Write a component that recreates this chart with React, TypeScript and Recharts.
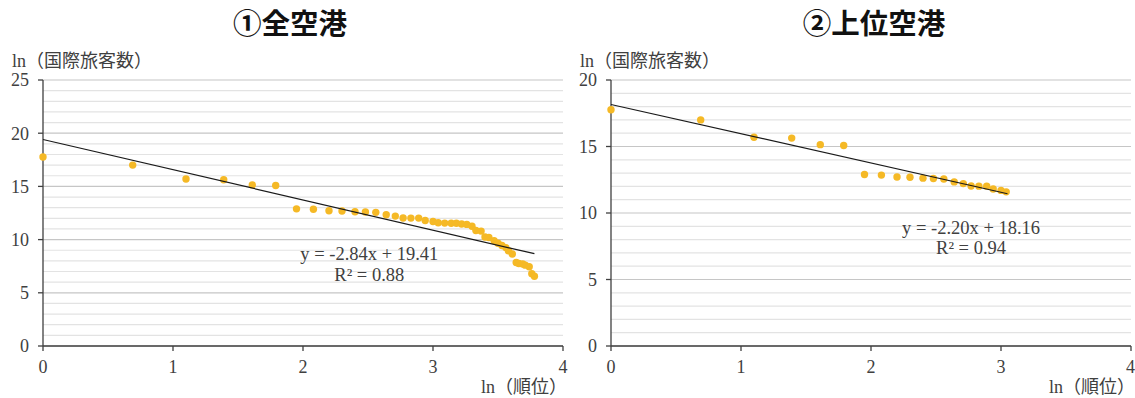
import React from 'react'
import {
  ScatterChart,
  Scatter,
  XAxis,
  YAxis,
  CartesianGrid,
  ReferenceLine,
  ReferenceDot,
} from 'recharts'

// ln(rank) of each airport
const lnRank = [
  0, 0.69, 1.1, 1.39, 1.61, 1.79, 1.95, 2.08, 2.2, 2.3, 2.4, 2.48, 2.56, 2.64,
  2.71, 2.77, 2.83, 2.89, 2.94, 3.0, 3.04, 3.09, 3.14, 3.18, 3.22, 3.26, 3.3,
  3.33, 3.37, 3.4, 3.43, 3.47, 3.5, 3.53, 3.56, 3.58, 3.61, 3.64, 3.66, 3.69,
  3.71, 3.74, 3.76, 3.78,
]

// ln(international passengers)
const lnPassengers = [
  17.76, 17.0, 15.7, 15.63, 15.14, 15.08, 12.89, 12.85, 12.71, 12.69, 12.62,
  12.59, 12.56, 12.34, 12.21, 12.03, 12.02, 12.02, 11.8, 11.7, 11.59, 11.55,
  11.53, 11.53, 11.47, 11.43, 11.25, 10.85, 10.8, 10.25, 10.2, 9.9, 9.65, 9.45,
  9.25, 8.95, 8.65, 7.85, 7.75, 7.7, 7.6, 7.45, 6.8, 6.55,
]

const TOP_COUNT = 21

const allTitle = '①全空港'
const topTitle = '②上位空港'
const yTitle = 'ln（国際旅客数）'
const xTitle = 'ln（順位）'

const xTicks = [0, 1, 2, 3, 4]
const allYTicks = [0, 5, 10, 15, 20, 25]
const topYTicks = [0, 5, 10, 15, 20]

const allFit = { slope: -2.84, intercept: 19.41, r2: '0.88', xEnd: 3.78 }
const topFit = { slope: -2.2, intercept: 18.16, r2: '0.94', xEnd: 3.05 }

const SERIF = "'Liberation Serif', 'Times New Roman', 'Noto Sans CJK JP', serif"
const TEXT = '#404040'
const AXIS = '#404040'

type Fit = { slope: number; intercept: number; r2: string; xEnd: number }

const Dot = (props: any) => (
  <circle cx={props.cx} cy={props.cy} r={3.7} fill="#F5B926" />
)

const fmt = (n: number) => n.toFixed(2)

function Panel({
  left,
  width,
  title,
  titleCenter,
  count,
  yMax,
  yTicks,
  fit,
  labelX,
  labelY1,
  labelY2,
}: {
  left: number
  width: number
  title: string
  titleCenter: number
  count: number
  yMax: number
  yTicks: number[]
  fit: Fit
  labelX: number
  labelY1: number
  labelY2: number
}) {
  const points = lnRank.slice(0, count).map((x, i) => ({ x, y: lnPassengers[i] }))
  const trend = [
    { x: 0, y: fit.intercept },
    { x: fit.xEnd, y: fit.intercept + fit.slope * fit.xEnd },
  ]
  const minor: number[] = []
  for (let v = 1; v < yMax; v++) if (v % 5 !== 0) minor.push(v)

  const eq = `y = ${fit.slope < 0 ? '-' : ''}${fmt(Math.abs(fit.slope))}x + ${fmt(fit.intercept)}`
  const labelStyle = { fontFamily: SERIF, fontSize: 18.5, fill: TEXT }

  return (
    <div style={{ position: 'absolute', left, top: 0, width, height: 398 }}>
      <div
        style={{
          position: 'absolute',
          left: titleCenter - 150,
          width: 300,
          top: 5,
          textAlign: 'center',
          fontFamily: "'Noto Sans CJK JP', sans-serif",
          fontWeight: 700,
          fontSize: 28.5,
          lineHeight: '34px',
          color: '#111',
        }}
      >
        {title}
      </div>
      <div
        style={{
          position: 'absolute',
          left: 12,
          top: 51,
          fontFamily: SERIF,
          fontSize: 18,
          lineHeight: '20px',
          color: TEXT,
          whiteSpace: 'nowrap',
        }}
      >
        {yTitle}
      </div>
      <div
        style={{
          position: 'absolute',
          right: width - 567,
          top: 377,
          fontFamily: SERIF,
          fontSize: 18,
          lineHeight: '20px',
          color: TEXT,
          whiteSpace: 'nowrap',
        }}
      >
        {xTitle}
      </div>
      <ScatterChart
        width={width}
        height={398}
        margin={{ top: 80, right: width - 563, bottom: 22, left: 13 }}
      >
        <CartesianGrid vertical={false} stroke="#c6c6c6" strokeWidth={1.2} />
        {minor.map((v) => (
          <ReferenceLine key={v} y={v} stroke="#e3e3e3" strokeWidth={1.2} />
        ))}
        <XAxis
          type="number"
          dataKey="x"
          domain={[0, 4]}
          ticks={xTicks}
          height={30}
          tickSize={5}
          tickMargin={9}
          axisLine={{ stroke: AXIS, strokeWidth: 1.3 }}
          tickLine={{ stroke: AXIS, strokeWidth: 1.3 }}
          tick={{ fill: TEXT, fontSize: 18, fontFamily: SERIF }}
        />
        <YAxis
          type="number"
          dataKey="y"
          domain={[0, yMax]}
          ticks={yTicks}
          width={30}
          tickSize={5}
          tickMargin={9}
          axisLine={{ stroke: AXIS, strokeWidth: 1.3 }}
          tickLine={{ stroke: AXIS, strokeWidth: 1.3 }}
          tick={{ fill: TEXT, fontSize: 18, fontFamily: SERIF }}
        />
        <Scatter data={points} shape={Dot} isAnimationActive={false} />
        <Scatter
          data={trend}
          line={{ stroke: '#1a1a1a', strokeWidth: 1.2 }}
          shape={() => <g />}
          isAnimationActive={false}
        />
        <ReferenceDot
          x={labelX}
          y={labelY1}
          r={0}
          fill="none"
          stroke="none"
          ifOverflow="visible"
          label={{ value: eq, position: 'center', ...labelStyle }}
        />
        <ReferenceDot
          x={labelX}
          y={labelY2}
          r={0}
          fill="none"
          stroke="none"
          ifOverflow="visible"
          label={{ value: `R² = ${fit.r2}`, position: 'center', ...labelStyle }}
        />
      </ScatterChart>
    </div>
  )
}

export default function App() {
  return (
    <div
      style={{
        position: 'absolute',
        left: 0,
        top: 0,
        width: 1135,
        height: 398,
        background: '#fff',
        overflow: 'hidden',
      }}
    >
      <Panel
        left={0}
        width={568}
        title={allTitle}
        titleCenter={290}
        count={lnRank.length}
        yMax={25}
        yTicks={allYTicks}
        fit={allFit}
        labelX={2.51}
        labelY1={8.71}
        labelY2={6.74}
      />
      <Panel
        left={568}
        width={567}
        title={topTitle}
        titleCenter={306}
        count={TOP_COUNT}
        yMax={20}
        yTicks={topYTicks}
        fit={topFit}
        labelX={2.77}
        labelY1={8.89}
        labelY2={7.42}
      />
    </div>
  )
}
